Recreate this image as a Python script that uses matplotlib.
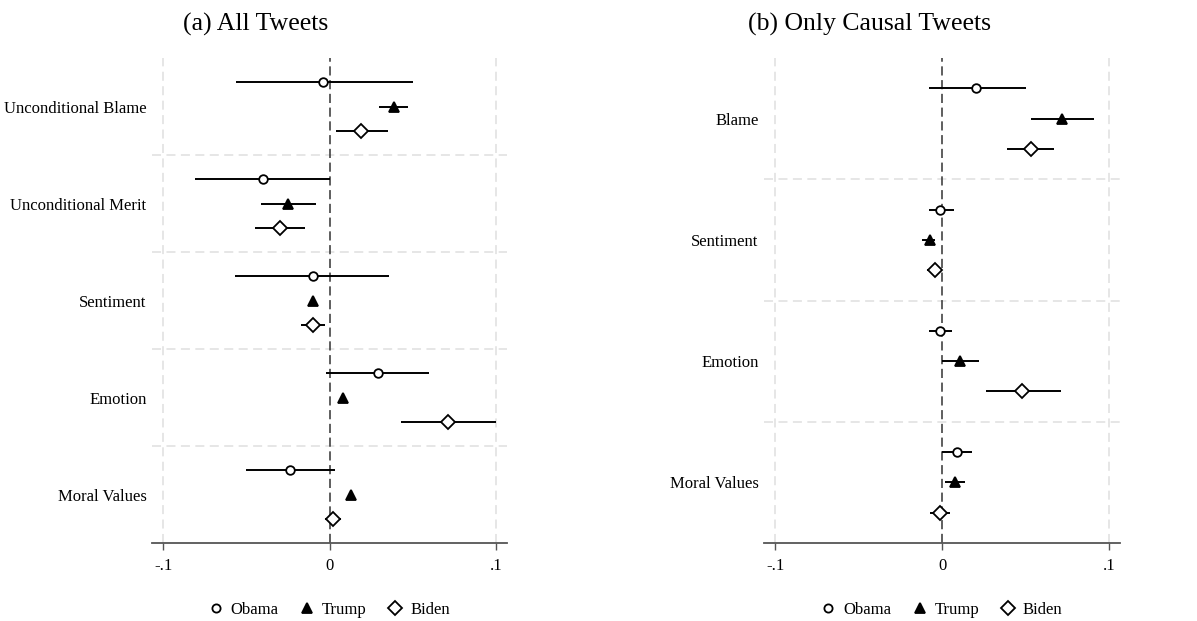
import numpy as np
import matplotlib
matplotlib.use("Agg")
import matplotlib.pyplot as plt
from matplotlib.lines import Line2D

plt.rcParams['font.family'] = ['Liberation Serif', 'DejaVu Serif']

# (a) All Tweets
categories_a = ["Unconditional Blame", "Unconditional Merit", "Sentiment", "Emotion", "Moral Values"]
obama_a = [-0.004, -0.040, -0.010, 0.029, -0.024]
obama_a_lo = [-0.056, -0.081, -0.057, -0.002, -0.050]
obama_a_hi = [0.050, 0.000, 0.036, 0.060, 0.003]
trump_a = [0.039, -0.025, -0.010, 0.008, 0.013]
trump_a_lo = [0.030, -0.041, -0.011, 0.007, 0.012]
trump_a_hi = [0.047, -0.008, -0.009, 0.009, 0.014]
biden_a = [0.019, -0.030, -0.010, 0.071, 0.002]
biden_a_lo = [0.004, -0.045, -0.017, 0.043, -0.003]
biden_a_hi = [0.035, -0.015, -0.003, 0.100, 0.007]

# (b) Only Causal Tweets
categories_b = ["Blame", "Sentiment", "Emotion", "Moral Values"]
obama_b = [0.020, -0.001, -0.001, 0.009]
obama_b_lo = [-0.008, -0.008, -0.008, 0.000]
obama_b_hi = [0.050, 0.007, 0.006, 0.018]
trump_b = [0.072, -0.007, 0.011, 0.008]
trump_b_lo = [0.053, -0.012, 0.000, 0.002]
trump_b_hi = [0.091, -0.004, 0.022, 0.014]
biden_b = [0.053, -0.004, 0.048, -0.001]
biden_b_lo = [0.039, -0.009, 0.026, -0.007]
biden_b_hi = [0.067, 0.000, 0.071, 0.005]

xticks = [-0.1, 0, 0.1]
xticklabels = ["-.1", "0", ".1"]

# name, marker, face colour, size, vertical offset inside a group
styles = [("Obama", "o", "white", 6.2, -0.25),
          ("Trump", "^", "black", 7.2, 0.0),
          ("Biden", "D", "white", 7.0, 0.25)]


def panel(ax, cats, series):
    n = len(cats)
    centers = np.arange(n) + 0.5
    for b in range(1, n):
        ax.axhline(b, color="#e4e4e4", lw=1.3, ls=(0, (5, 3)), zorder=0)
    for v in [-0.1, 0.1]:
        ax.axvline(v, color="#e4e4e4", lw=1.3, ls=(0, (5, 3)), zorder=0)
    ax.axvline(0, color="#333333", lw=1.1, ls=(0, (6, 3)), zorder=1)
    for (name, mk, fc, ms, off), (est, lo, hi) in zip(styles, series):
        est = np.array(est)
        err = np.vstack([est - np.array(lo), np.array(hi) - est])
        ax.errorbar(est, centers + off, xerr=err, fmt=mk, color="black",
                    mfc=fc, mec="black", ms=ms, mew=1.3, elinewidth=1.4,
                    capsize=0, zorder=3)
    ax.set_ylim(n, 0)
    ax.set_xlim(-0.1066, 0.1066)
    ax.set_yticks(centers)
    ax.set_yticklabels(cats, fontsize=12)
    ax.tick_params(axis="y", length=0, pad=4)
    ax.set_xticks(xticks)
    ax.set_xticklabels(xticklabels, fontsize=12)
    ax.tick_params(axis="x", length=5, width=1, color="#555555", pad=6)
    for s in ["left", "right", "top"]:
        ax.spines[s].set_visible(False)
    ax.spines["bottom"].set_color("#555555")
    ax.spines["bottom"].set_linewidth(1.3)
    handles = [Line2D([], [], ls="none", marker=mk, mfc=fc, mec="black",
                      color="black", ms=ms - 0.3, mew=1.3, label=name)
               for name, mk, fc, ms, off in styles]
    ax.legend(handles=handles, loc="center", bbox_to_anchor=(0.5, -0.138),
              ncol=3, frameon=False, fontsize=12, handlelength=0.8,
              handletextpad=0.5, columnspacing=1.3)


fig = plt.figure(figsize=(11.97, 6.21), dpi=100)
ax1 = fig.add_axes([0.127, 0.1256, 0.2966, 0.781])
ax2 = fig.add_axes([0.6383, 0.1256, 0.2975, 0.781])

panel(ax1, categories_a, [(obama_a, obama_a_lo, obama_a_hi),
                          (trump_a, trump_a_lo, trump_a_hi),
                          (biden_a, biden_a_lo, biden_a_hi)])
panel(ax2, categories_b, [(obama_b, obama_b_lo, obama_b_hi),
                          (trump_b, trump_b_lo, trump_b_hi),
                          (biden_b, biden_b_lo, biden_b_hi)])

fig.text(256 / 1197, 1 - 24 / 621, "(a) All Tweets", ha="center", va="center", fontsize=18.5)
fig.text(869 / 1197, 1 - 24 / 621, "(b) Only Causal Tweets", ha="center", va="center", fontsize=18.5)

fig.savefig("out.png", dpi=100)
